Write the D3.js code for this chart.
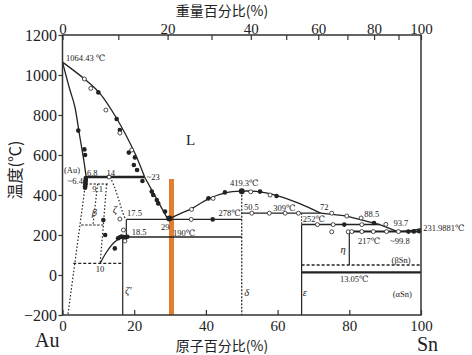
<!DOCTYPE html>
<html><head><meta charset="utf-8">
<script src="https://cdn.jsdelivr.net/npm/d3@7"></script>
<style>body{margin:0;background:#fff}</style>
</head><body>
<svg id="c" width="472" height="355"></svg>
<script>
// ---- data (atomic % Sn, temperature °C) ----
const atTicks = [0, 20, 40, 60, 80, 100];
const tempTicks = [-200, 0, 200, 400, 600, 800, 1000, 1200];
const wtTicks = [0, 10, 20, 30, 40, 50, 60, 70, 80, 90, 100];
const wtLabels = [0, 20, 40, 60, 80, 100];

const liquidusAu = [[0,1064.43],[6,982],[10.2,913],[15.2,780],[20.1,612],[22.9,490]];
const liquidusZeta = [[22.9,490],[29.4,278]];
const liquidusDelta = [[29.4,278],[33,308],[36,332],[41,383],[45.7,412],[50,419.3],[54,418],[60,396],[66,358],[72,309]];
const liquidusEps = [[72,309],[79,296],[88.5,252]];
const liquidusEta = [[88.5,252],[93.5,217]];
const liquidusSn = [[93.5,217],[97,222],[100,231.99]];
const solidusAu = [[0,1064.43],[2,930],[3.4,845],[4.7,705],[5.9,578],[6.6,490]];
const solvusAuTop = [[6.6,490],[6.4,455]];
const solvusAuLow = [[6.4,455],[1.5,-200]];
const peritectic490 = [[6.6,490],[22.9,490]];
const line455 = [[6.4,455],[13,455]];
const betaLeft = [[9.8,455],[8.5,250]];
const beta250 = [[5.2,250],[11.4,250]];
const betaRight = [[12.3,455],[11.3,230],[10.5,60]];
const zetaLeft = [[13.3,490],[14.5,440],[15.8,370],[16.8,312],[17.4,285]];
const zetaPrime58 = [[3,58],[16.8,58]];
const zetaPrimeSolvus = [[10.5,58],[12.3,115],[14.6,166],[16.8,190]];
const zetaPrimeLine = [[16.8,190],[16.8,-200]];
const zetaVert = [[17.8,278],[17.8,190]];
const eutectic278 = [[17.8,278],[50,278]];
const line190 = [[16.8,190],[50,190]];
const deltaLine = [[50,419.3],[50,-200]];
const peritectic309 = [[50,309],[72,309]];
const epsUpper = [[66.7,309],[66.7,252]];
const epsLower = [[66.7,252],[66.7,-200]];
const peritectic252 = [[66.7,252],[88.5,252]];
const eutectic217 = [[80,217],[99.8,217]];
const etaLine = [[80,217],[80,50]];
const betaSnLine = [[66.7,50],[100,50]];
const line1305 = [[66.7,13.05],[100,13.05]];

const filledPts = [[10,913],[15.1,780],[16,725],[18.5,612],[20.2,588],[19.9,550],[20.8,525],[22.3,470],
  [24.9,417],[25.3,400],[26.3,375],[26.7,358],[28.6,317],[4.4,722],[6.1,628],[6.3,600],
  [6.5,485],[6.5,475],[6.4,468],[6.4,460],[6.4,452],[6.3,444],[6.3,436],[11.4,275],[11.9,200],
  [14.6,133],[15.5,184],[16,189],[16.5,192],[17.1,190],[17.6,188],[18.1,191],
  [41.9,278],[40.7,383],[45.3,413],[55.1,417],[59.7,395],[78.6,252],[86.9,260],
  [96.5,217],[98,218],[99.5,219]];
const bigPts = [[29.8,282],[50,419.3]];
const openPts = [[6.1,980],[7.9,933],[12.1,825],[16,710],[19.3,625],[13,490],
  [35.9,278],[36,328],[42,383],[52.5,416],[57.9,400],[16,280],[17.4,170],[17,225],
  [52.8,309],[57.7,309],[62.1,309],[65.8,309],[75.1,309],[79.3,295],[83.3,285],[90.2,253],
  [71.1,252],[75.5,252],[83.5,252],[75.1,216],[79.7,216],
  [80.7,217],[83.5,217],[86.7,217],[90.4,217],[93.7,217]];

const highlightAt = [30.4];
const highlightTop = [480];

const labels = [
  ["1064.43 ℃",1.0,1072,"start",""],["(Au)",0.4,512,"start",""],["~6.4",5.7,457,"end",""],
  ["6.8",6.8,497,"start",""],["14",12.3,497,"start",""],["~23",23.5,475,"start",""],
  ["9.1",8.3,413,"start",""],["β",8.9,295,"middle","i"],["ζ",14.6,310,"middle","i"],
  ["17.5",18,293,"start",""],["18.5",19.3,201,"start",""],["29",27.5,225,"start",""],
  ["190℃",30.8,195,"start",""],["10",9.3,13,"start",""],["ζ'",17.4,-95,"start","i"],
  ["419.3℃",46.7,447,"start",""],["278℃",43.5,296,"start",""],["50.5",50.6,326,"start",""],
  ["309℃",58.8,321,"start",""],["72",71.8,325,"start",""],["252℃",67,265,"start",""],
  ["88.5",84.2,290,"start",""],["93.7",92.3,247,"start",""],["231.9881℃",100.6,220,"start",""],
  ["217℃",82.4,155,"start",""],["~99.8",91.4,157,"start",""],["η",78.3,110,"middle","i"],
  ["(βSn)",91.8,60,"start",""],["13.05℃",77.4,-35,"start",""],["(αSn)",92.1,-112,"start",""],
  ["δ",51.4,-105,"middle","i"],["ε",67.6,-105,"middle","i"]
];

// ---- drawing ----
const svg = d3.select("#c");
const x = d3.scaleLinear().domain([0,100]).range([62.5,421]);
const y = d3.scaleLinear().domain([-200,1200]).range([315,35]);
const wtToAt = w => { const s=w/118.71, a=(100-w)/196.97; return 100*s/(s+a); };
const xw = d3.scaleLinear().domain(wtTicks).range(wtTicks.map(w=>x(wtToAt(w))));

const ink = "#222";
const serif = "'Liberation Serif','DejaVu Serif',serif";
const cjk = "'Noto Sans CJK SC','Noto Sans',sans-serif";

// orange highlight bar
svg.selectAll("rect.hl").data(highlightAt).join("rect")
  .attr("x", d=>x(d)-2.5).attr("width",5)
  .attr("y", (d,i)=>y(highlightTop[i])).attr("height",(d,i)=>y(-200)-y(highlightTop[i]))
  .attr("fill","#e67c2e");

const smooth = d3.line().x(d=>x(d[0])).y(d=>y(d[1])).curve(d3.curveCatmullRom.alpha(0.5));
const straight = d3.line().x(d=>x(d[0])).y(d=>y(d[1]));
function draw(data, gen, w, dash){
  svg.append("path").datum(data).attr("d",gen).attr("fill","none")
    .attr("stroke",ink).attr("stroke-width",w).attr("stroke-dasharray",dash||null);
}
draw(liquidusAu, smooth, 1.3);
draw(liquidusZeta, straight, 1.3);
draw(liquidusDelta, smooth, 1.3);
draw(liquidusEps, straight, 1.3);
draw(liquidusEta, straight, 1.3);
draw(liquidusSn, smooth, 1.3);
draw(solidusAu, smooth, 1.3);
draw(solvusAuTop, straight, 2.5);
draw(solvusAuLow, straight, 1.2, "1.5,2");
draw(peritectic490, straight, 2.6);
draw(line455, straight, 1.1, "2.5,1.5");
draw(betaLeft, straight, 1.2, "1.5,2");
draw(beta250, straight, 1.1, "2.5,1.5");
draw(betaRight, straight, 1.2, "1.5,2");
draw(zetaLeft, smooth, 1.2, "1.5,2");
draw(zetaPrime58, straight, 1.1, "3,2");
draw(zetaPrimeSolvus, smooth, 1.3);
draw(zetaPrimeLine, straight, 1.2);
draw(zetaVert, straight, 1.2);
draw(eutectic278, straight, 1.4);
draw(line190, straight, 1.3);
draw(deltaLine, straight, 1.2, "2,1.5");
draw(peritectic309, straight, 1.3);
draw(epsUpper, straight, 1.1, "1.5,1.5");
draw(epsLower, straight, 1.2);
draw(peritectic252, straight, 1.5);
draw(eutectic217, straight, 2);
draw(etaLine, straight, 1.2);
draw(betaSnLine, straight, 1.3, "3,2");
draw(line1305, straight, 2.4);

// data points
svg.selectAll("circle.f").data(filledPts).join("circle")
  .attr("cx",d=>x(d[0])).attr("cy",d=>y(d[1])).attr("r",2.3).attr("fill",ink);
svg.selectAll("circle.b").data(bigPts).join("circle")
  .attr("cx",d=>x(d[0])).attr("cy",d=>y(d[1])).attr("r",3).attr("fill",ink);
svg.selectAll("circle.o").data(openPts).join("circle")
  .attr("cx",d=>x(d[0])).attr("cy",d=>y(d[1])).attr("r",2).attr("fill","#fff")
  .attr("stroke",ink).attr("stroke-width",0.8);

// frame
svg.append("rect").attr("x",x(0)).attr("y",y(1200)).attr("width",x(100)-x(0)).attr("height",y(-200)-y(1200))
  .attr("fill","none").attr("stroke","#333").attr("stroke-width",1.5);

// axes
const gB = svg.append("g").attr("transform",`translate(0,${y(-200)})`)
  .call(d3.axisBottom(x).tickValues(atTicks).tickSizeInner(-5).tickSizeOuter(0).tickPadding(5.8));
const gL = svg.append("g").attr("transform",`translate(${x(0)},0)`)
  .call(d3.axisLeft(y).tickValues(tempTicks).tickSizeInner(4).tickSizeOuter(0).tickPadding(1.5));
const gT = svg.append("g").attr("transform",`translate(0,${y(1200)})`)
  .call(d3.axisTop(xw).tickValues(wtTicks).tickFormat(d=>wtLabels.includes(d)?d:"")
    .tickSizeInner(-5).tickSizeOuter(0).tickPadding(1));
[gB,gL,gT].forEach(g=>{
  g.select(".domain").remove();
  g.selectAll("line").attr("stroke","#333").attr("stroke-width",1.2);
  g.selectAll("text").attr("font-family",serif).attr("fill","#222");
});
gL.selectAll("text").attr("font-size",16).text(d=> d<0 ? "−"+Math.abs(d) : d);
gB.selectAll("text").attr("font-size",15);
gT.selectAll("text").attr("font-size",15);

// axis titles
svg.append("text").attr("x",222).attr("y",16.3).attr("text-anchor","middle")
  .attr("font-family",cjk).attr("font-size",14).attr("fill","#222").text("重量百分比(%)");
svg.append("text").attr("x",222).attr("y",351.2).attr("text-anchor","middle")
  .attr("font-family",cjk).attr("font-size",14).attr("fill","#222").text("原子百分比(%)");
svg.append("text").attr("transform","translate(21,170) rotate(-90)").attr("text-anchor","middle")
  .attr("font-family",cjk).attr("font-size",16).attr("fill","#222").text("温度(℃)");
svg.append("text").attr("x",35).attr("y",347).attr("font-family",serif).attr("font-size",20)
  .attr("fill","#222").text("Au");
svg.append("text").attr("x",417).attr("y",351).attr("font-family",serif).attr("font-size",20)
  .attr("fill","#222").text("Sn");

// annotations
svg.selectAll("text.lab").data(labels).join("text")
  .attr("x",d=>x(d[1])).attr("y",d=>y(d[2])).attr("text-anchor",d=>d[3])
  .attr("font-family",serif).attr("font-size",d=>d[4]==="i"?10.5:8.5)
  .attr("font-style",d=>d[4]==="i"?"italic":"normal").attr("fill","#222").text(d=>d[0]);
svg.append("text").attr("x",x(35.7)).attr("y",y(652)).attr("text-anchor","middle")
  .attr("font-family",serif).attr("font-size",15).attr("fill","#222").text("L");
</script>
</body></html>
